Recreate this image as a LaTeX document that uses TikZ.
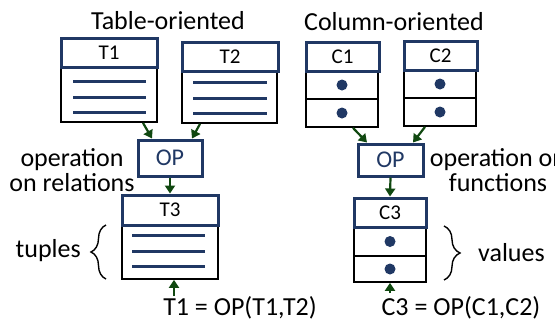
\documentclass[tikz,border=0pt]{standalone}
\usepackage{fontspec}
\setmainfont{Carlito}
\usetikzlibrary{arrows.meta,decorations.pathreplacing,calc}
\definecolor{navy}{RGB}{32,56,100}
\definecolor{arrowgreen}{RGB}{16,72,16}
\tikzset{
  hdr/.style={draw=navy, line width=3pt, fill=white, inner sep=0pt, font=\fontsize{21}{21}\selectfont},
  bodybox/.style={draw=black, line width=1.8pt, inner sep=0pt},
  tupleline/.style={draw=navy, line width=3pt},
  dotmark/.style={circle, fill=navy, inner sep=0pt, minimum size=11pt},
  opbox/.style={draw=navy, line width=3pt, inner sep=0pt, text=navy, font=\fontsize{24}{24}\selectfont},
  flow/.style={-{Triangle[width=10pt,length=8pt]}, draw=arrowgreen, line width=2.2pt},
  lbl/.style={font=\fontsize{26}{25}\selectfont, align=center, inner sep=0pt},
  brc/.style={decorate, decoration={brace, amplitude=#1}, line width=1.4pt}
}
\begin{document}
\begin{tikzpicture}[x=1pt,y=-1pt]
\useasboundingbox (0,0) rectangle (555,327);
\clip (0,0) rectangle (555,327);
\fill[white] (0,0) rectangle (555,327);

% titles
\node[lbl] (title1) at (168,21) {Table-oriented};
\node[lbl] (title2) at (394,22) {Column-oriented};

% ---- Table side ----
\node[bodybox, minimum width=96pt, minimum height=55pt] (t1b) at (109,94.5) {};
\node[hdr, minimum width=96pt, minimum height=29pt] (t1h) at (109,52.5) {T1};
\draw[tupleline] (73,81) -- (146,81);
\draw[tupleline] (73,97) -- (146,97);
\draw[tupleline] (73,112) -- (146,112);

\node[bodybox, minimum width=95pt, minimum height=52pt] (t2b) at (229.5,97) {};
\node[hdr, minimum width=96pt, minimum height=29pt] (t2h) at (230,56.5) {T2};
\draw[tupleline] (193,82) -- (267,82);
\draw[tupleline] (193,98) -- (267,98);
\draw[tupleline] (193,113) -- (267,113);

\node[opbox, minimum width=64pt, minimum height=36pt] (op1) at (170,158) {OP};

\node[bodybox, minimum width=96pt, minimum height=54pt] (t3b) at (170,252) {};
\node[hdr, minimum width=96pt, minimum height=30pt] (t3h) at (170,210) {T3};
\draw[tupleline] (132,235) -- (205,235);
\draw[tupleline] (132,251) -- (205,251);
\draw[tupleline] (132,266) -- (205,266);

\draw[flow] ([xshift=34pt]t1b.south) -- ([xshift=-18pt]op1.north);
\draw[flow] ([xshift=-29.5pt]t2b.south) -- ([xshift=22pt]op1.north);
\draw[flow] (op1.south) -- (t3h.north);

\node[lbl] (oprel) at (72,170) {operation\\on relations};
\node[lbl, anchor=east] (tuples) at (81,251) {tuples};
\draw[brc=15pt] (106,279) -- (106,225);

\node[lbl] (eq1) at (240,308) {T1 = OP(T1,T2)};
\coordinate (eq1top) at (174,296);
\draw[flow] (eq1top) -- (t3b.south -| eq1top);

% ---- Column side ----
\node[bodybox, minimum width=72pt, minimum height=28pt] (c1a) at (342,85) {};
\node[bodybox, minimum width=72pt, minimum height=28pt] (c1b) at (342,113) {};
\node[hdr, minimum width=73pt, minimum height=29pt] (c1h) at (342.5,56.5) {C1};
\node[dotmark] (c1da) at (c1a.center) {};
\node[dotmark] (c1db) at (c1b.center) {};

\node[bodybox, minimum width=72pt, minimum height=28pt] (c2a) at (440,84) {};
\node[bodybox, minimum width=72pt, minimum height=28pt] (c2b) at (440,112) {};
\node[hdr, minimum width=73pt, minimum height=29pt] (c2h) at (440.5,55.5) {C2};
\node[dotmark] (c2da) at (c2a.center) {};
\node[dotmark] (c2db) at (c2b.center) {};

\node[opbox, minimum width=65pt, minimum height=32pt] (op2) at (390.5,160) {OP};

\node[bodybox, minimum width=72pt, minimum height=29pt] (c3a) at (390,241.5) {};
\node[bodybox, minimum width=72pt, minimum height=26pt] (c3b) at (390,269) {};
\node[hdr, minimum width=72pt, minimum height=29pt] (c3h) at (390,212.5) {C3};
\node[dotmark] (c3da) at (c3a.center) {};
\node[dotmark] (c3db) at (c3b.center) {};

\draw[flow] ([xshift=11pt]c1b.south) -- ([xshift=-23.5pt]op2.north);
\draw[flow] ([xshift=-15pt]c2b.south) -- ([xshift=22.5pt]op2.north);
\draw[flow] (op2.south) -- (c3h.north);

\node[lbl] (opfun) at (498,170) {operation on\\functions};
\node[lbl, anchor=west] (values) at (478,253) {values};
\draw[brc=16pt] (444,226) -- (444,280);

\node[lbl] (eq2) at (461,308) {C3 = OP(C1,C2)};
\coordinate (eq2top) at (390,293);
\draw[flow] (eq2top) -- (c3b.south);
\end{tikzpicture}
\end{document}
